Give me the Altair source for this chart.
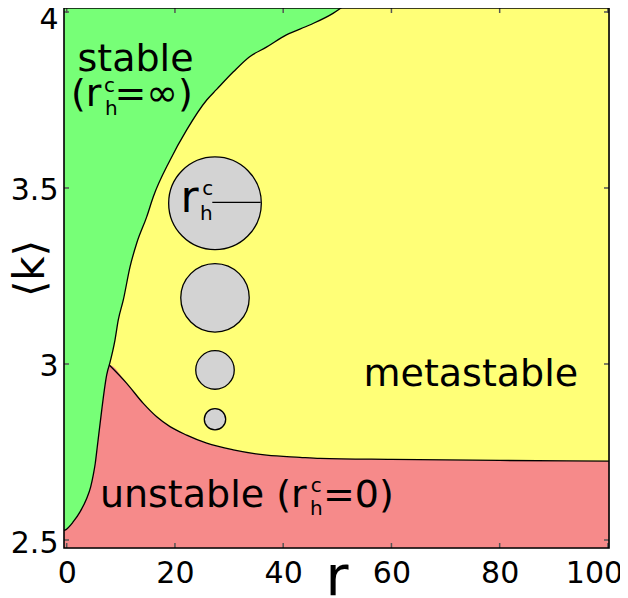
import altair as alt
import pandas as pd

# ---------------- data ----------------
# boundary stable / unstable (green / red)
a_x = [-0.5, -0.32, 1.22, 2.46, 3.69, 4.43, 4.91, 5.28, 5.65, 6.02, 6.47, 6.95, 7.39, 7.87]
a_y = [2.527, 2.528, 2.552, 2.580, 2.618, 2.651, 2.685, 2.718, 2.765, 2.812, 2.869, 2.926, 2.969, 2.997]
# boundary stable / metastable (green / yellow)
b_x = [7.87, 8.92, 9.53, 10.46, 11.7, 12.93, 14.78, 16.0, 19.09, 22.17, 25.87, 27.7, 30.8,
       33.8, 36.9, 40.6, 44.9, 49.2, 51.7]
b_y = [2.997, 3.068, 3.125, 3.182, 3.276, 3.343, 3.418, 3.475, 3.579, 3.665, 3.75, 3.78, 3.83,
       3.873, 3.90, 3.935, 3.963, 3.996, 4.0227]
# boundary unstable / metastable (red / yellow)
c_x = [7.87, 11.09, 14.15, 16.63, 19.09, 22.17, 25.87, 30.78, 36.95, 43.1, 46.8, 60, 80, 100.2]
c_y = [2.997, 2.945, 2.888, 2.850, 2.822, 2.798, 2.775, 2.756, 2.741, 2.735, 2.732, 2.729, 2.726, 2.724]

# illustrative nuclei (relative critical radius)
circ_x = [27.4, 27.4, 27.4, 27.4]
circ_y = [3.4565, 3.188, 2.983, 2.843]
circ_r = [4.33, 3.20, 1.80, 1.00]

x_ticks = [0, 20, 40, 60, 80, 100]
y_ticks = [2.5, 3.0, 3.5, 4.0]

# ---------------- chart setup ----------------
XMIN, XMAX = -0.5, 100.2
YMIN, YMAX = 2.4773, 4.0113
W, H = 545, 540
FONT = "DejaVu Sans"
GREEN, YELLOW, RED, GREY = "#77ff77", "#ffff77", "#f68a8a", "#d3d3d3"

xs = alt.Scale(domain=[XMIN, XMAX], nice=False, zero=False)
ys = alt.Scale(domain=[YMIN, YMAX], nice=False, zero=False)

xaxis = alt.Axis(
    values=x_ticks, format="d", grid=False, ticks=False, tickSize=0, domain=False,
    labelFont=FONT, labelFontSize=30, labelColor="black", labelPadding=10,
    labelFlush=False, labelOverlap=False,
    labelOffset={"condition": {"test": "datum.value == 100", "value": -14}, "value": 0},
    title="r", titleFont=FONT, titleFontSize=56, titleFontWeight="normal", titleColor="black",
    titleX=W / 2, titleY=46, titleBaseline="alphabetic", titleAlign="center",
)
yaxis = alt.Axis(
    values=y_ticks, format="~g", grid=False, ticks=False, tickSize=0, domain=False,
    labelFont=FONT, labelFontSize=30, labelColor="black", labelPadding=6,
    labelFlush=False, labelOverlap=False, labelBaseline="middle",
    labelOffset={"condition": {"test": "datum.value == 4", "value": 8}, "value": 3},
    title="⟨k⟩", titleFont=FONT, titleFontSize=42, titleFontWeight="normal", titleColor="black",
    titleAngle=270, titleX=-21, titleY=260, titleBaseline="alphabetic", titleAlign="center",
)


def X(f="x"):
    return alt.X(f"{f}:Q", scale=xs, axis=xaxis)


def Y(f="y"):
    return alt.Y(f"{f}:Q", scale=ys, axis=yaxis)


green_df = pd.DataFrame({"x": a_x + b_x[1:], "y": a_y + b_y[1:]})
red_df = pd.DataFrame({"x": a_x + c_x[1:], "y": a_y + c_y[1:]})
lines_df = pd.concat([
    pd.DataFrame({"x": a_x, "y": a_y, "seg": "a"}),
    pd.DataFrame({"x": b_x, "y": b_y, "seg": "b"}),
    pd.DataFrame({"x": c_x, "y": c_y, "seg": "c"}),
])

background = alt.Chart(alt.Data(values=[{"a": 1}])).mark_rect(
    fill=YELLOW, strokeWidth=0
).encode(x=alt.value(0), x2=alt.value(W), y=alt.value(0), y2=alt.value(H))

green = alt.Chart(green_df).mark_area(
    color=GREEN, opacity=1, clip=True, interpolate="monotone"
).encode(x=X(), y=Y(), y2=alt.Y2(datum=YMAX))
red = alt.Chart(red_df).mark_area(
    color=RED, opacity=1, clip=True, interpolate="monotone"
).encode(x=X(), y=Y(), y2=alt.Y2(datum=YMIN))
lines = alt.Chart(lines_df).mark_line(
    color="black", strokeWidth=1.3, clip=True, interpolate="monotone"
).encode(x=X(), y=Y(), detail="seg:N")

circ_df = pd.DataFrame({"x": circ_x, "y": circ_y, "r": circ_r})
circles = alt.Chart(circ_df).mark_circle(
    fill=GREY, stroke="black", strokeWidth=1.3, opacity=1, fillOpacity=1
).encode(
    x=X(), y=Y(),
    size=alt.Size("r:Q", scale=alt.Scale(type="pow", exponent=2, domain=[0, 4.33], range=[0, 8585]),
                  legend=None),
)

# radius marker in the biggest circle
rad_df = pd.DataFrame({"x": [26.9], "x2": [35.84], "y": [3.459]})
radius = alt.Chart(rad_df).mark_rule(color="black", strokeWidth=1.3).encode(
    x=X(), x2="x2:Q", y=Y())

# text annotations (data coordinates of the text anchors)
big_center = pd.DataFrame({"x": [12.71, 74.67], "y": [3.832, 2.9375],
                           "text": ["stable", "metastable"]})
big_left = pd.DataFrame({"x": [0.79, 8.83, 6.13, 47.36], "y": [3.734, 3.734, 2.5946, 2.5946],
                         "text": ["(r", "=∞)", "unstable (r", "=0)"]})
scripts = pd.DataFrame({"x": [6.89, 7.08, 45.08, 44.95, 25.05, 24.63],
                        "y": [3.7736, 3.7074, 2.6372, 2.571, 3.480, 3.409],
                        "text": ["c", "h", "c", "h", "c", "h"]})
circ_lab = pd.DataFrame({"x": [21.03], "y": [3.4326], "text": ["r"]})


def text_layer(df, size, align):
    return alt.Chart(df).mark_text(
        align=align, baseline="alphabetic", font=FONT, fontSize=size, color="black"
    ).encode(x=X(), y=Y(), text="text:N")


t1 = text_layer(big_center, 38, "center")
t2 = text_layer(big_left, 38, "left")
t3 = text_layer(scripts, 20, "left")
t4 = text_layer(circ_lab, 44, "left")

# inward ticks on all four sides
tx = pd.DataFrame({"x": x_ticks})
ty = pd.DataFrame({"y": y_ticks})
TICK = dict(color="#555555", strokeWidth=1.5)
tb = alt.Chart(tx).mark_rule(**TICK).encode(x=X(), y=alt.value(H), y2=alt.value(H - 5))
tt = alt.Chart(tx).mark_rule(**TICK).encode(x=X(), y=alt.value(0), y2=alt.value(5))
tl = alt.Chart(ty).mark_rule(**TICK).encode(y=Y(), x=alt.value(0), x2=alt.value(5))
tr = alt.Chart(ty).mark_rule(**TICK).encode(y=Y(), x=alt.value(W), x2=alt.value(W - 5))

frame = alt.Chart(alt.Data(values=[{"a": 1}])).mark_rect(
    filled=False, stroke="black", strokeWidth=1.6
).encode(x=alt.value(0), x2=alt.value(W), y=alt.value(0), y2=alt.value(H))

chart = alt.layer(
    background, green, red, lines, circles, radius, t1, t2, t3, t4, tb, tt, tl, tr, frame
).properties(
    width=W, height=H,
    autosize=alt.AutoSizeParams(type="none"),
    padding={"left": 56, "top": 0, "right": 11, "bottom": 48},
).configure_view(
    stroke="transparent"
).configure(font=FONT)

chart.save("out.html", embed_options={"renderer": "svg", "actions": False})
